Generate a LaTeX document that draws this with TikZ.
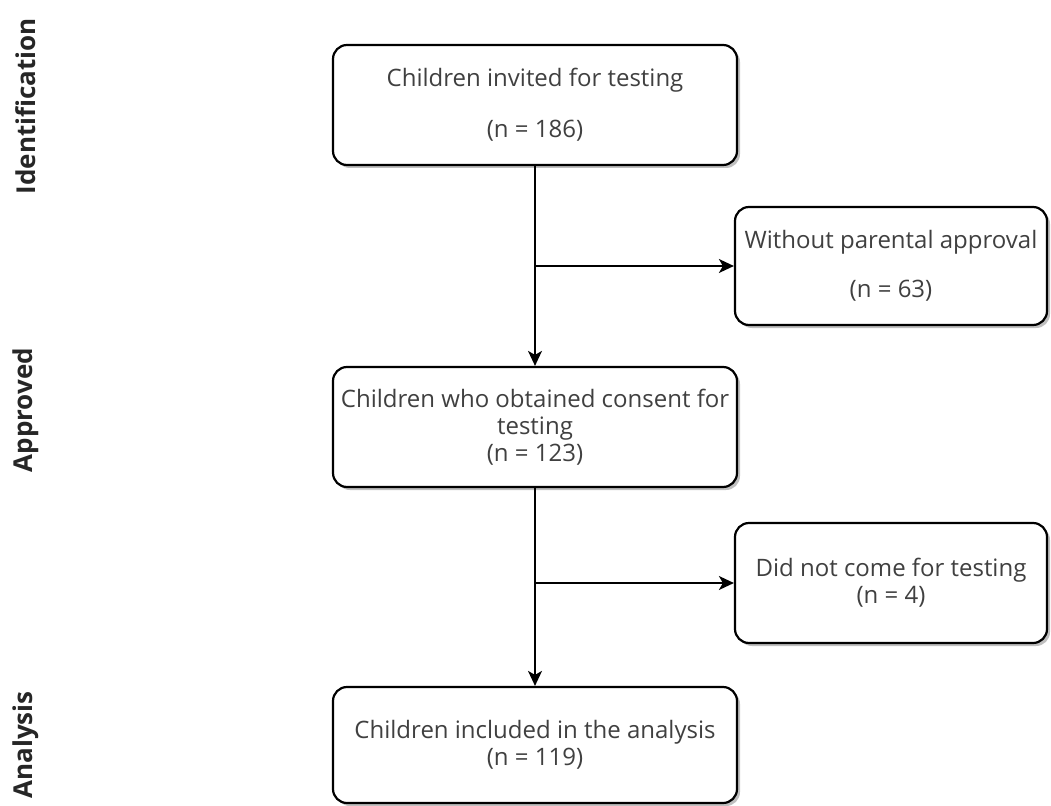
\documentclass[tikz,border=0pt]{standalone}
\usepackage{fontspec}
\setmainfont{Open Sans}
\usetikzlibrary{arrows.meta,shadows}

\begin{document}
\begin{tikzpicture}[x=1pt,y=-1pt,>={Stealth[length=15pt,width=14pt,inset=4pt]},line cap=round,
  stage/.style={draw=black,line width=2.2pt,rounded corners=14pt,fill=white,
    drop shadow={shadow xshift=3pt,shadow yshift=-3pt,opacity=0.5},
    align=center,text=black!75,inner sep=0pt,
    font=\fontsize{24}{27}\selectfont},
  phase/.style={rotate=90,text=black!85,font=\bfseries\fontsize{26}{30}\selectfont},
  flow/.style={->,line width=1.6pt}]
\useasboundingbox (0,0) rectangle (1051,805);
% phases
\node[phase] (ident) at (26,106) {Identification};
\node[phase] (approved) at (26,410) {Approved};
\node[phase] (analysis) at (26,745) {Analysis};
% main column
\node[stage,minimum width=404pt,minimum height=120pt] (invited) at (535,105)
  {Children invited for testing\\[24pt](n = 186)};
\node[stage,minimum width=404pt,minimum height=120pt] (consent) at (535,427)
  {Children who obtained consent for\\testing\\(n = 123)};
\node[stage,minimum width=404pt,minimum height=116pt] (included) at (535,745)
  {Children included in the analysis\\(n = 119)};
% exclusions
\node[stage,minimum width=312pt,minimum height=118pt] (noapproval) at (891,266)
  {Without parental approval\\[22pt](n = 63)};
\node[stage,minimum width=312pt,minimum height=120pt] (notcome) at (891,583)
  {Did not come for testing\\(n = 4)};
% arrows
\draw[flow] (invited) -- (consent);
\coordinate (fork1) at (invited.south |- noapproval.west);
\draw[flow] (fork1) -- (noapproval);
\draw[flow] (consent) -- (included);
\coordinate (fork2) at (consent.south |- notcome.west);
\draw[flow] (fork2) -- (notcome);
\end{tikzpicture}
\end{document}
